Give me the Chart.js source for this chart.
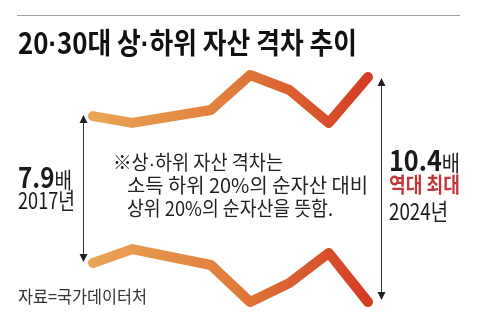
<!DOCTYPE html>
<html><head><meta charset="utf-8">
<script src="https://cdn.jsdelivr.net/npm/chart.js@4/dist/chart.umd.min.js"></script>
<style>
html,body{margin:0;padding:0;background:#fff;}
#wrap{position:relative;width:480px;height:328px;overflow:hidden;font-family:"Liberation Sans Narrow","Noto Sans CJK KR","Noto Sans",sans-serif;color:#1a1a1a;}
canvas{position:absolute;left:0;top:0;}
.t{position:absolute;white-space:nowrap;line-height:1;transform-origin:0 0;}
.d{font-family:"Liberation Sans","Noto Sans CJK KR",sans-serif;}
</style></head><body>
<div id="wrap">
<canvas id="c" width="480" height="328"></canvas>
<div style="position:absolute;left:17px;top:15px;width:443px;height:1px;background:#a0a0a0"></div>
<div class="t" data-w="339" style="left:18px;top:27px;font-size:29px;font-weight:700;color:#111" id="title"></div>
<div class="t" data-w="54" style="left:18px;top:162px;" id="lval"></div>
<div class="t" data-w="57" style="left:18px;top:188px;font-size:23px;" id="lyear"></div>
<div class="t" data-w="71" style="left:389px;top:145px;" id="rval"></div>
<div class="t" data-w="71" style="left:389px;top:173px;font-size:21px;font-weight:700;color:#c2373a" id="rnote"></div>
<div class="t" data-w="59" style="left:389px;top:199px;font-size:23px;" id="ryear"></div>
<div class="t" data-w="170" style="left:113px;top:152px;font-size:20px;color:#222" id="n1"></div>
<div class="t" data-w="241" style="left:127px;top:175px;font-size:20px;color:#222" id="n2"></div>
<div class="t" data-w="206" style="left:127px;top:198px;font-size:20px;color:#222" id="n3"></div>
<div class="t" data-w="129" style="left:18px;top:287px;font-size:17px;color:#333" id="src"></div>
</div>
<script>
// ---- data ----
const years = [2017, 2018, 2020, 2021, 2022, 2023, 2024];
const upperLine = [81.9, 78.9, 84.6, 100, 93.4, 78.9, 99.1];
const lowerLine = [17.2, 23.3, 16.3, 0, 8.4, 21.6, 0];
const titleText = '20·30대 상·하위 자산 격차 추이';
const startRatio = '7.9', endRatio = '10.4', unit = '배';
const startYear = '2017년', endYear = '2024년', endNote = '역대 최대';
const noteLines = ['※상·하위 자산 격차는', '소득 하위 20%의 순자산 대비', '상위 20%의 순자산을 뜻함.'];
const sourceText = '자료=국가데이터처';

// ---- text ----
function dots(s){ return s.replace(/·/g, '<span class="d">·</span>'); }
document.getElementById('title').innerHTML = dots(titleText);
document.getElementById('lval').innerHTML = '<span style="font-size:28px;font-weight:700">' + startRatio + '</span><span style="font-size:22px">' + unit + '</span>';
document.getElementById('rval').innerHTML = '<span style="font-size:28px;font-weight:700">' + endRatio + '</span><span style="font-size:22px">' + unit + '</span>';
document.getElementById('lyear').textContent = startYear;
document.getElementById('ryear').textContent = endYear;
document.getElementById('rnote').textContent = endNote;
['n1','n2','n3'].forEach((id,i)=>document.getElementById(id).innerHTML = dots(noteLines[i]));
document.getElementById('src').textContent = sourceText;
document.querySelectorAll('.t[data-w]').forEach(el=>{
  const w = el.getBoundingClientRect().width;
  const target = parseFloat(el.dataset.w);
  if (w > 0) el.style.transform = 'scaleX(' + (target / w) + ')';
});

// ---- chart ----
function grad(ctx){
  const ch = ctx.chart, a = ch.chartArea;
  if (!a) return '#e07a38';
  const g = ch.ctx.createLinearGradient(a.left, 0, a.right, 0);
  g.addColorStop(0, '#eaa556');
  g.addColorStop(0.5, '#e07c3a');
  g.addColorStop(1, '#d43c24');
  return g;
}
const arrows = {
  id: 'arrows',
  afterDatasetsDraw(chart){
    const c = chart.ctx, xs = chart.scales.x, ys = chart.scales.y;
    const n = years.length - 1;
    const defs = [
      {x: xs.getPixelForValue(years[0]) - 10, y1: ys.getPixelForValue(upperLine[0]) - 1, y2: ys.getPixelForValue(lowerLine[0]) - 1},
      {x: xs.getPixelForValue(years[n]) + 13, y1: ys.getPixelForValue(upperLine[n]) + 1, y2: ys.getPixelForValue(lowerLine[n]) - 2}
    ];
    c.save();
    c.strokeStyle = '#333'; c.fillStyle = '#222'; c.lineWidth = 1;
    defs.forEach(d=>{
      const x = Math.round(d.x) + 0.5;
      c.beginPath(); c.moveTo(x, d.y1 + 4); c.lineTo(x, d.y2 - 4); c.stroke();
      c.beginPath(); c.moveTo(x, d.y1); c.lineTo(x - 4, d.y1 + 8); c.lineTo(x + 4, d.y1 + 8); c.closePath(); c.fill();
      c.beginPath(); c.moveTo(x, d.y2); c.lineTo(x - 4, d.y2 - 8); c.lineTo(x + 4, d.y2 - 8); c.closePath(); c.fill();
    });
    c.restore();
  }
};
new Chart(document.getElementById('c'), {
  type: 'line',
  data: {
    datasets: [
      {data: years.map((y,i)=>({x:y, y:upperLine[i]}))},
      {data: years.map((y,i)=>({x:y, y:lowerLine[i]}))}
    ]
  },
  options: {
    responsive: false,
    animation: false,
    devicePixelRatio: 1,
    layout: {padding: {left: 93, right: 112, top: 75, bottom: 26}},
    scales: {
      x: {type: 'linear', min: 2017, max: 2024, display: false},
      y: {min: 0, max: 100, display: false}
    },
    elements: {
      point: {radius: 0},
      line: {borderWidth: 10, borderColor: grad, borderCapStyle: 'round', borderJoinStyle: 'round', tension: 0, fill: false}
    },
    datasets: {line: {clip: false}},
    plugins: {legend: {display: false}, tooltip: {enabled: false}, title: {display: false}}
  },
  plugins: [arrows]
});
</script>
</body></html>
